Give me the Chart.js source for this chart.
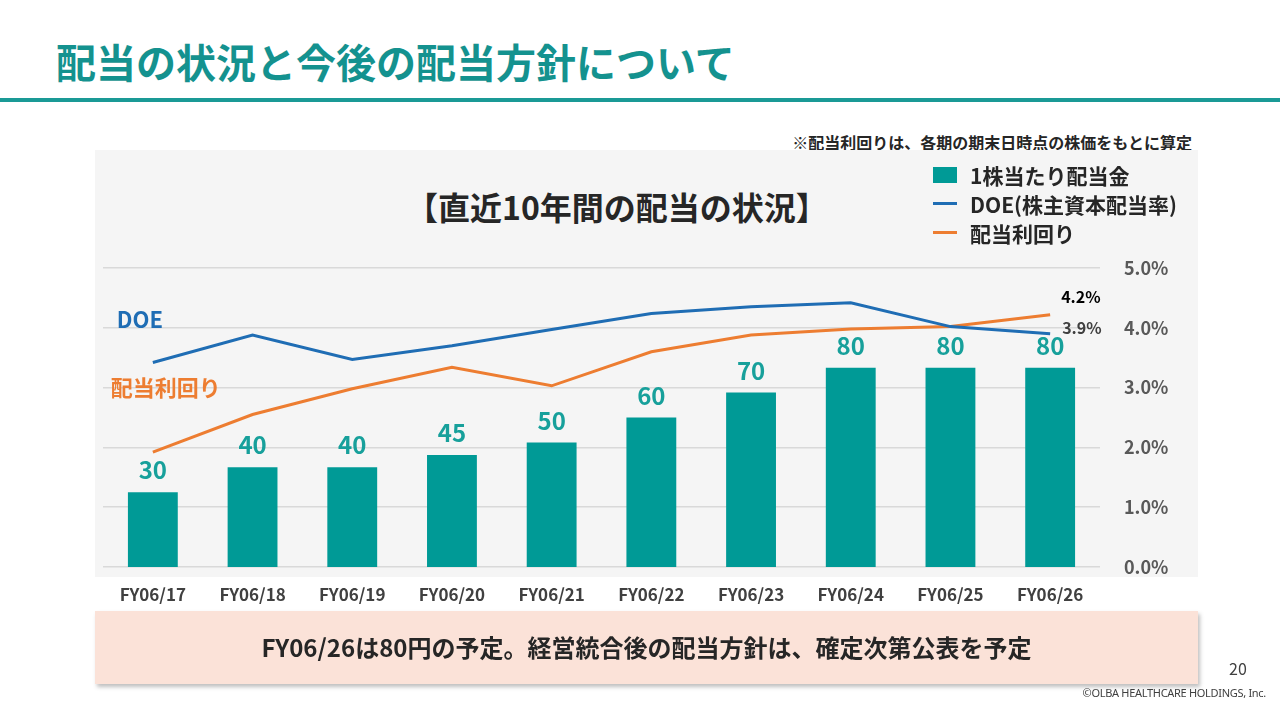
<!DOCTYPE html>
<html lang="ja">
<head>
  <meta charset="UTF-8">
  <title>配当の状況と今後の配当方針について</title>
  <script src="https://cdn.jsdelivr.net/npm/chart.js"></script>
  <style>
    body {
      margin: 0;
      width: 1280px;
      height: 720px;
      position: relative;
      background: #fff;
      font-family: "Noto Sans CJK JP", "Noto Sans", sans-serif;
      overflow: hidden;
    }
    .title {
      position: absolute;
      left: 56px;
      top: 35px;
      font-size: 40px;
      font-weight: bold;
      color: #14928f;
      line-height: 52px;
      white-space: nowrap;
    }
    .rule {
      position: absolute;
      left: 0;
      top: 98px;
      width: 1280px;
      height: 4px;
      background: #1a9a96;
    }
    .note {
      position: absolute;
      right: 88px;
      top: 130px;
      font-size: 16px;
      font-weight: bold;
      color: #262626;
      white-space: nowrap;
    }
    .panel {
      position: absolute;
      left: 95px;
      top: 150px;
      width: 1103px;
      height: 427px;
      background: #f5f5f5;
    }
    .chart-title {
      position: absolute;
      left: 406px;
      top: 183px;
      font-size: 32px;
      font-weight: bold;
      color: #262626;
      white-space: nowrap;
    }
    .chart-container {
      position: absolute;
      left: 95px;
      top: 150px;
      width: 1105px;
      height: 460px;
    }
    #legend {
      position: absolute;
      left: 933px;
      top: 160px;
      font-size: 21px;
      font-weight: bold;
      color: #262626;
    }
    #legend .item {
      height: 29px;
      display: flex;
      align-items: center;
      white-space: nowrap;
    }
    #legend .swatch {
      width: 24px;
      margin-right: 13px;
    }
    .summary {
      position: absolute;
      left: 95px;
      top: 611px;
      width: 1103px;
      height: 73px;
      background: #fbe2d8;
      box-shadow: 2px 3px 4px rgba(0, 0, 0, 0.25);
      text-align: center;
      line-height: 71px;
      font-size: 24px;
      font-weight: bold;
      color: #262626;
    }
    .page {
      position: absolute;
      left: 1229px;
      top: 656px;
      font-size: 16px;
      color: #404040;
    }
    .copy {
      position: absolute;
      right: 14px;
      top: 685px;
      font-size: 11px;
      color: #404040;
      font-family: "Noto Sans", sans-serif;
      letter-spacing: -0.3px;
    }
  </style>
</head>
<body>
  <div class="title">配当の状況と今後の配当方針について</div>
  <div class="rule"></div>
  <div class="note">※配当利回りは、各期の期末日時点の株価をもとに算定</div>
  <div class="panel"></div>
  <div class="chart-title">【直近10年間の配当の状況】</div>

  <div class="chart-container">
    <canvas id="dividendChart"></canvas>
  </div>
  <div id="legend"></div>

  <div class="summary">FY06/26は80円の予定。経営統合後の配当方針は、確定次第公表を予定</div>
  <div class="page">20</div>
  <div class="copy">©OLBA HEALTHCARE HOLDINGS, Inc.</div>

  <script>
    // Data
    const categories = ['FY06/17', 'FY06/18', 'FY06/19', 'FY06/20', 'FY06/21',
                        'FY06/22', 'FY06/23', 'FY06/24', 'FY06/25', 'FY06/26'];
    const dividendPerShare = [30, 40, 40, 45, 50, 60, 70, 80, 80, 80];   // 円
    const doeRate = [3.42, 3.88, 3.47, 3.70, 3.97, 4.24, 4.35, 4.42, 4.02, 3.90];   // %
    const dividendYield = [1.92, 2.55, 2.98, 3.34, 3.03, 3.60, 3.88, 3.98, 4.02, 4.22]; // %
    const percentTicks = [0, 1, 2, 3, 4, 5];

    const TEAL = '#009a96';
    const BLUE = '#1f6db4';
    const ORANGE = '#ed7d31';
    const FONT = '"Noto Sans CJK JP", "Noto Sans", sans-serif';

    // Value labels on bars, end labels on lines, series names at line start
    const labelPlugin = {
      id: 'labels',
      afterDatasetsDraw(chart) {
        const ctx = chart.ctx;
        ctx.save();

        const bars = chart.getDatasetMeta(2).data;
        ctx.font = 'bold 24px ' + FONT;
        ctx.fillStyle = '#17a09b';
        ctx.textAlign = 'center';
        ctx.textBaseline = 'middle';
        bars.forEach((bar, i) => {
          ctx.fillText(dividendPerShare[i], bar.x, bar.y - 22);
        });

        const doePts = chart.getDatasetMeta(0).data;
        const yieldPts = chart.getDatasetMeta(1).data;
        const last = categories.length - 1;

        ctx.font = 'bold 16px ' + FONT;
        ctx.textAlign = 'left';
        ctx.fillStyle = '#000';
        ctx.fillText(dividendYield[last].toFixed(1) + '%', yieldPts[last].x + 11, yieldPts[last].y - 18);
        ctx.fillStyle = '#404040';
        ctx.fillText(doeRate[last].toFixed(1) + '%', doePts[last].x + 12, doePts[last].y - 6);

        ctx.font = 'bold 22px ' + FONT;
        ctx.fillStyle = BLUE;
        ctx.fillText('DOE', doePts[0].x - 36, doePts[0].y - 43);
        ctx.fillStyle = ORANGE;
        ctx.fillText('配当利回り', yieldPts[0].x - 42, yieldPts[0].y - 65);

        ctx.restore();
      }
    };

    const chart = new Chart(document.getElementById('dividendChart'), {
      data: {
        labels: categories,
        datasets: [
          {
            type: 'line',
            label: 'DOE(株主資本配当率)',
            data: doeRate,
            yAxisID: 'yPct',
            borderColor: BLUE,
            backgroundColor: BLUE,
            borderWidth: 3,
            pointRadius: 0,
            tension: 0,
            order: 0
          },
          {
            type: 'line',
            label: '配当利回り',
            data: dividendYield,
            yAxisID: 'yPct',
            borderColor: ORANGE,
            backgroundColor: ORANGE,
            borderWidth: 3,
            pointRadius: 0,
            tension: 0,
            order: 1
          },
          {
            type: 'bar',
            label: '1株当たり配当金',
            data: dividendPerShare,
            yAxisID: 'yYen',
            backgroundColor: TEAL,
            barPercentage: 0.5,
            categoryPercentage: 1,
            order: 2
          }
        ]
      },
      options: {
        responsive: true,
        maintainAspectRatio: false,
        animation: false,
        layout: { padding: { left: 8, top: 118, right: 0, bottom: 0 } },
        plugins: {
          legend: { display: false },
          tooltip: { enabled: false }
        },
        scales: {
          x: {
            grid: { display: false },
            border: { display: false },
            ticks: {
              color: '#404040',
              font: { family: FONT, size: 17, weight: 'bold' },
              padding: 9,
              maxRotation: 0
            },
            afterFit(scale) { scale.height = 43; }
          },
          yYen: {
            position: 'left',
            display: false,
            min: 0,
            max: 120
          },
          yPct: {
            position: 'right',
            min: 0,
            max: 5,
            afterBuildTicks(scale) {
              scale.ticks = percentTicks.map(v => ({ value: v }));
            },
            grid: { color: '#d9d9d9', lineWidth: 1.5, drawTicks: false },
            border: { display: false },
            ticks: {
              color: '#595959',
              font: { family: FONT, size: 18, weight: 'bold' },
              padding: 24,
              callback: v => v.toFixed(1) + '%'
            },
            afterFit(scale) { scale.width = 100; }
          }
        }
      },
      plugins: [labelPlugin]
    });

    // Legend built from the datasets, bar first
    const legend = document.getElementById('legend');
    [2, 0, 1].forEach(i => {
      const ds = chart.data.datasets[i];
      const item = document.createElement('div');
      item.className = 'item';
      const sw = document.createElement('span');
      sw.className = 'swatch';
      if (ds.type === 'bar') {
        sw.style.height = '16px';
        sw.style.background = ds.backgroundColor;
      } else {
        sw.style.height = '3px';
        sw.style.background = ds.borderColor;
      }
      item.appendChild(sw);
      item.appendChild(document.createTextNode(ds.label));
      legend.appendChild(item);
    });
  </script>
</body>
</html>
